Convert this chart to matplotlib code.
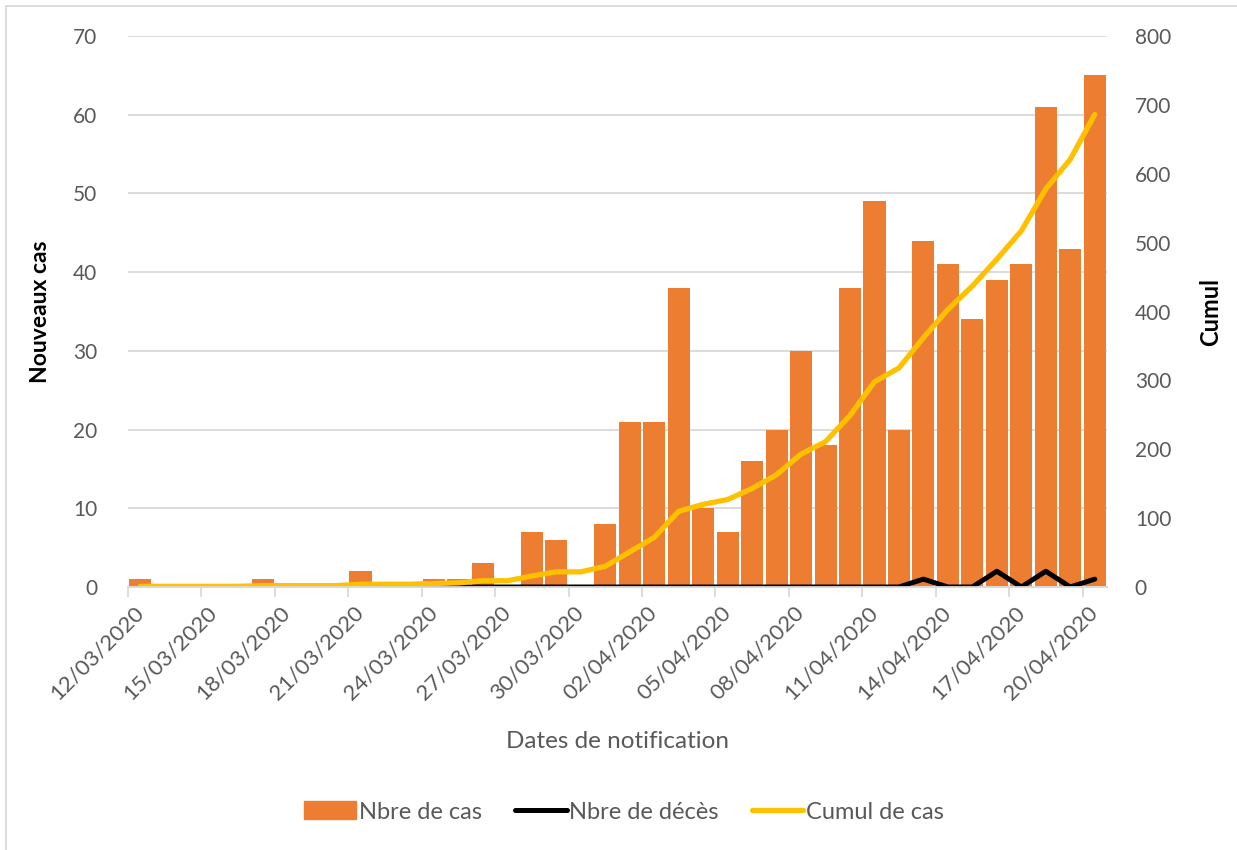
import numpy as np
import matplotlib.pyplot as plt
from matplotlib.patches import Rectangle, Patch
from matplotlib.lines import Line2D

plt.rcParams['font.family'] = ['Lato', 'DejaVu Sans']

# Données
dates = ['12/03/2020', '13/03/2020', '14/03/2020', '15/03/2020', '16/03/2020',
         '17/03/2020', '18/03/2020', '19/03/2020', '20/03/2020', '21/03/2020',
         '22/03/2020', '23/03/2020', '24/03/2020', '25/03/2020', '26/03/2020',
         '27/03/2020', '28/03/2020', '29/03/2020', '30/03/2020', '31/03/2020',
         '01/04/2020', '02/04/2020', '03/04/2020', '04/04/2020', '05/04/2020',
         '06/04/2020', '07/04/2020', '08/04/2020', '09/04/2020', '10/04/2020',
         '11/04/2020', '12/04/2020', '13/04/2020', '14/04/2020', '15/04/2020',
         '16/04/2020', '17/04/2020', '18/04/2020', '19/04/2020', '20/04/2020']
nbre_cas = [1, 0, 0, 0, 0, 1, 0, 0, 0, 2,
            0, 0, 1, 1, 3, 0, 7, 6, 0, 8,
            21, 21, 38, 10, 7, 16, 20, 30, 18, 38,
            49, 20, 44, 41, 34, 39, 41, 61, 43, 65]
nbre_deces = [0, 0, 0, 0, 0, 0, 0, 0, 0, 0,
              0, 0, 0, 0, 0, 0, 0, 0, 0, 0,
              0, 0, 0, 0, 0, 0, 0, 0, 0, 0,
              0, 0, 1, 0, 0, 2, 0, 2, 0, 1]
cumul_cas = [1, 1, 1, 1, 1, 2, 2, 2, 2, 4,
             4, 4, 5, 6, 9, 9, 16, 22, 22, 30,
             51, 72, 110, 120, 127, 143, 163, 193, 211, 249,
             298, 318, 362, 403, 437, 476, 517, 578, 621, 686]

gris = '#595959'
grille = '#D9D9D9'
orange = '#ED7D31'
jaune = '#FFC000'

W, H = 1237, 850
fig = plt.figure(figsize=(W / 100, H / 100), dpi=100)
ax = fig.add_axes([128 / W, 1 - 587 / H, (1107 - 128) / W, (587 - 36) / H])
ax2 = ax.twinx()

x = np.arange(len(dates))
ax.bar(x, nbre_cas, width=0.9, color=orange, zorder=2)
ax.plot(x, nbre_deces, color='black', lw=3.6, solid_capstyle='round', zorder=3)
ax2.plot(x, cumul_cas, color=jaune, lw=3.8, solid_capstyle='round')

ax.set_xlim(-0.5, len(dates) - 0.5)
ax.set_ylim(0, 70)
ax2.set_ylim(0, 800)
ax.set_yticks(np.arange(0, 71, 10))
ax2.set_yticks(np.arange(0, 801, 100))
ax.yaxis.grid(True, color=grille, lw=1.3, zorder=0)
ax.set_axisbelow(True)

# graduations entre les catégories, étiquettes au centre
ax.set_xticks(np.arange(-0.5, len(dates), 3))
ax.set_xticklabels([])
ax.set_xticks(x[::3], minor=True)
ax.set_xticklabels(dates[::3], minor=True, rotation=45, ha='right', va='center',
                   rotation_mode='anchor', fontsize=16, color=gris)
ax.tick_params(axis='x', which='major', length=7, color=grille, width=1.3)
ax.tick_params(axis='x', which='minor', length=0, pad=16)

for a in (ax, ax2):
    for s in ('top', 'left', 'right'):
        a.spines[s].set_visible(False)
    a.spines['bottom'].set_color(grille)
    a.spines['bottom'].set_linewidth(1.3)
ax.tick_params(axis='y', length=0, labelsize=15, labelcolor=gris, pad=22)
ax2.tick_params(axis='y', length=0, labelsize=15, labelcolor=gris, pad=20)

ax.set_ylabel('Nouveaux cas', fontsize=16.5, fontweight='bold', labelpad=16)
ax2.set_ylabel('Cumul', fontsize=17, fontweight='bold', labelpad=20)
fig.text(617 / W, 1 - 742 / H, 'Dates de notification', fontsize=17.5,
         color=gris, ha='center', va='center')

handles = [Patch(color=orange),
           Line2D([], [], color='black', lw=3.6, solid_capstyle='round'),
           Line2D([], [], color=jaune, lw=3.8, solid_capstyle='round')]
labels = ['Nbre de cas', 'Nbre de décès', 'Cumul de cas']
fig.legend(handles, labels, loc='center', bbox_to_anchor=(624 / W, 1 - 812 / H),
           ncol=3, frameon=False, fontsize=17, labelcolor=gris,
           handlelength=2.2, handleheight=0.8, handletextpad=0.1, columnspacing=1.4)

# cadre du graphique
fig.patches.append(Rectangle((6 / W, -0.1), 1.2, 1.1 - 6 / H, transform=fig.transFigure,
                             fill=False, edgecolor=grille, lw=1.3))

fig.savefig('out.png', dpi=100)
